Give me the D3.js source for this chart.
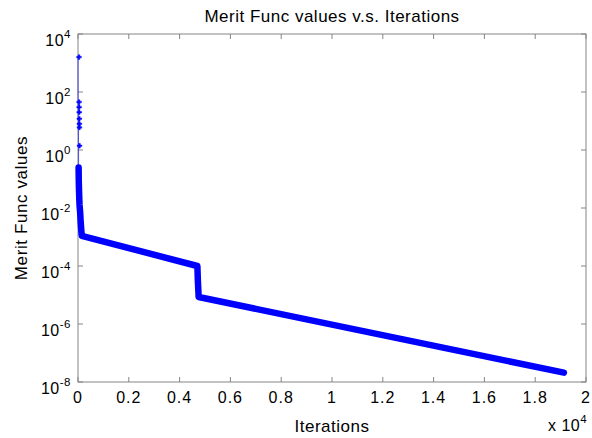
<!DOCTYPE html>
<html>
<head>
<meta charset="utf-8">
<script src="https://cdn.jsdelivr.net/npm/d3@7"></script>
<style>
    body { margin: 0; background: #fff; }
    text { font-family: "Liberation Sans", Arial, Helvetica, sans-serif; fill: #000; }
</style>
</head>
<body>
<div id="chart"></div>
<script>

// early iterations (sparse markers near iteration 0)
let earlyIter = [0, 3, 6, 9, 12, 15, 18, 21, 24, 27, 30, 35, 40, 45, 50, 55, 60, 70, 80, 90, 100, 110, 120, 130, 140, 150];
let earlyVal = [1600, 45, 30, 20, 12, 8, 6, 1.4, 0.25, 0.15, 0.09, 0.06, 0.04, 0.03, 0.022, 0.017, 0.013, 0.01, 0.008, 0.006, 0.004, 0.003, 0.0022, 0.0017, 0.0013, 0.0011];

// long, dense part of the run (first slope, jump, second slope)
let mainIter = [4700, 4720, 4750, 19130];
let mainVal = [1.0e-4, 3.0e-5, 8.5e-6, 2.1e-8];

// tick labels
let xTicks = [0, 0.2, 0.4, 0.6, 0.8, 1, 1.2, 1.4, 1.6, 1.8, 2];
let yTicks = [-8, -6, -4, -2, 0, 2, 4];

let margin = {top: 34, right: 6, bottom: 56, left: 78};
let width = 592 - margin.left - margin.right;
let height = 438 - margin.top - margin.bottom;
let blue = "#0000ff";
let axisColor = "#858585";

let svg = d3.select("#chart").append("svg")
    .attr("width", 592)
    .attr("height", 438);

let g = svg.append("g")
    .attr("transform", `translate(${margin.left}, ${margin.top})`);

// scales (x in units of 1e4 iterations)
let x = d3.scaleLinear().domain([0, 2]).range([0, width]);
let y = d3.scaleLog().domain([1e-8, 1e4]).range([height, 0]);

let allIter = earlyIter.concat(mainIter);
let allVal = earlyVal.concat(mainVal);
let points = allIter.map((it, i) => ({it: it / 1e4, v: allVal[i]}));

// box
g.append("rect")
    .attr("width", width)
    .attr("height", height)
    .attr("fill", "none")
    .attr("stroke", axisColor)
    .attr("stroke-width", 1);

// ticks, inside, mirrored
let tickLen = 5;
xTicks.forEach(t => {
    g.append("line").attr("x1", x(t)).attr("x2", x(t)).attr("y1", height).attr("y2", height - tickLen)
        .attr("stroke", axisColor);
    g.append("line").attr("x1", x(t)).attr("x2", x(t)).attr("y1", 0).attr("y2", tickLen)
        .attr("stroke", axisColor);
    g.append("text")
        .attr("x", x(t))
        .attr("y", height + 21)
        .attr("text-anchor", "middle")
        .style("font-size", "16px")
        .style("letter-spacing", "1px")
        .text(String(+t.toFixed(1)));
});

yTicks.forEach(t => {
    let yy = y(Math.pow(10, t));
    g.append("line").attr("x1", 0).attr("x2", tickLen).attr("y1", yy).attr("y2", yy)
        .attr("stroke", axisColor);
    g.append("line").attr("x1", width).attr("x2", width - tickLen).attr("y1", yy).attr("y2", yy)
        .attr("stroke", axisColor);
    let lab = g.append("text")
        .attr("x", -7)
        .attr("y", yy + 12)
        .attr("text-anchor", "end")
        .style("font-size", "16px")
        .style("letter-spacing", "0.5px");
    lab.append("tspan").text("10");
    lab.append("tspan").attr("dy", -8).style("font-size", "11.5px").text(t);
});

// x 10^4 multiplier
let mult = svg.append("text")
    .attr("x", 548)
    .attr("y", 431)
    .style("font-size", "16px")
    .style("letter-spacing", "0.5px");
mult.append("tspan").text("x 10");
mult.append("tspan").attr("dy", -8).style("font-size", "11.5px").text("4");

// thin connecting line
let line = d3.line()
    .x(d => x(d.it))
    .y(d => y(d.v));

g.append("path")
    .datum(points)
    .attr("d", line)
    .attr("fill", "none")
    .attr("stroke", blue)
    .attr("stroke-opacity", 0.6)
    .attr("stroke-width", 1);

// dense markers read as a thick band
g.append("path")
    .datum(points.filter(d => d.it >= 24 / 1e4))
    .attr("d", line)
    .attr("fill", "none")
    .attr("stroke", blue)
    .attr("stroke-width", 6.5)
    .attr("stroke-linejoin", "round")
    .attr("stroke-linecap", "round");

// small cross markers for the early points
g.selectAll(".marker")
    .data(points.filter(d => d.it < 24 / 1e4))
    .enter().append("path")
    .attr("class", "marker")
    .attr("transform", d => `translate(${x(d.it) + 1}, ${y(d.v)})`)
    .attr("d", d3.symbol().type(d3.symbolCross).size(12))
    .attr("fill", blue)
    .attr("stroke", blue)
    .attr("stroke-width", 0.5);

// title and axis labels
svg.append("text")
    .attr("x", margin.left + width / 2)
    .attr("y", 22)
    .attr("text-anchor", "middle")
    .style("font-size", "17px")
    .style("letter-spacing", "0.5px")
    .text("Merit Func values v.s. Iterations");

svg.append("text")
    .attr("x", margin.left + width / 2)
    .attr("y", 432)
    .attr("text-anchor", "middle")
    .style("font-size", "17px")
    .style("letter-spacing", "0.5px")
    .text("Iterations");

svg.append("text")
    .attr("transform", `translate(27, ${margin.top + height / 2}) rotate(-90)`)
    .attr("text-anchor", "middle")
    .style("font-size", "17px")
    .style("letter-spacing", "0.6px")
    .text("Merit Func values");

</script>
</body>
</html>
